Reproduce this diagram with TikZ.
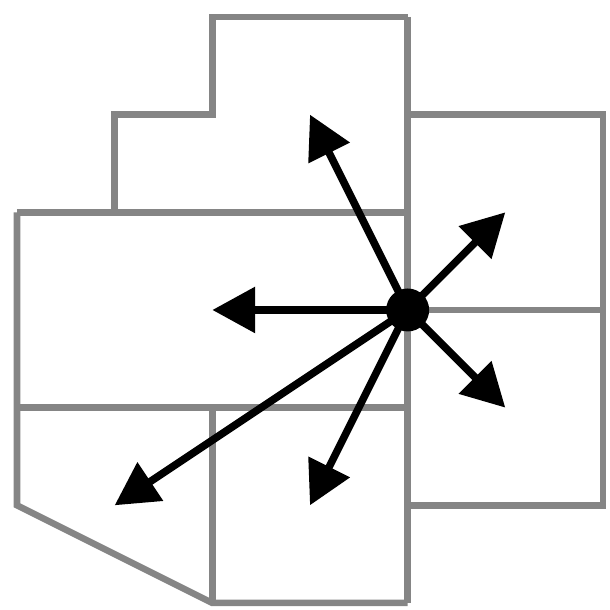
\documentclass[tikz,border=0pt]{standalone}
\usepackage{tikz}
\usetikzlibrary{arrows.meta}

\begin{document}
\begin{tikzpicture}
	\tikzstyle{wall}=[draw=black!48, line width=1.9pt]
	\tikzstyle{ray}=[draw=black, line width=2.2pt, -{Triangle[length=12.5pt,width=13pt]}]
	\useasboundingbox (-0.174,-0.072) rectangle (6.072,6.174);

	% Rooms
	\draw[wall] (1,4) -- (1,5) -- (2,5) -- (2,6) -- (4,6);
	\draw[wall] (4,6) -- (4,0);
	\draw[wall] (0,4) -- (4,4);
	\draw[wall] (0,2) -- (4,2);
	\draw[wall] (0,4) -- (0,1) -- (2,0) -- (4,0);
	\draw[wall] (2,2) -- (2,0);
	\draw[wall] (4,5) -- (6,5) -- (6,1) -- (4,1);
	\draw[wall] (4,3) -- (6,3);

	% Source
	\node[circle, fill=black, inner sep=0pt, minimum size=4.4mm] at (4,3) (hub) {};

	% Targets
	\coordinate (t_1) at (3,5);
	\coordinate (t_2) at (5,4);
	\coordinate (t_3) at (2,3);
	\coordinate (t_4) at (5,2);
	\coordinate (t_5) at (3,1);
	\coordinate (t_6) at (1,1);

	% Source -> Targets
	\foreach \i in {1,...,6}
		\draw[ray] (hub.center) -- (t_\i);
\end{tikzpicture}
\end{document}
